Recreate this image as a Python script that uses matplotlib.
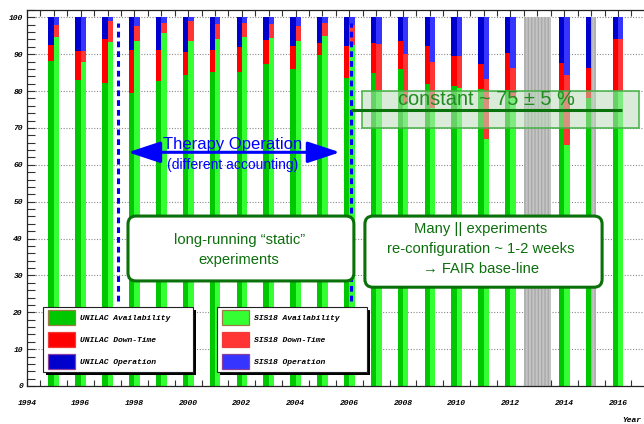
import numpy as np
import matplotlib
matplotlib.use("Agg")
import matplotlib.pyplot as plt
from matplotlib.patches import Rectangle, FancyBboxPatch, FancyArrowPatch

# ---- data (percent of scheduled beam time) ----
unilac_years = [1995, 1996, 1997, 1998, 1999, 2000, 2001, 2002, 2003, 2004, 2005,
                2006, 2007, 2008, 2009, 2010, 2011, 2012, 2014, 2015, 2016]
unilac_avail = [88.2, 83.1, 82.1, 79.4, 82.8, 84.5, 85.3, 85.2, 87.3, 86.0, 89.9,
                83.5, 84.9, 85.9, 82.0, 81.5, 80.6, 80.4, 80.0, 78.0, 80.0]
unilac_down = [4.3, 7.9, 12.0, 11.8, 8.4, 6.2, 5.8, 6.8, 6.6, 6.1, 3.1,
               8.6, 8.1, 7.6, 10.1, 8.1, 6.7, 9.8, 7.6, 8.3, 14.0]
unilac_oper = [7.5, 9.0, 5.9, 8.8, 8.8, 9.3, 8.9, 8.0, 6.1, 7.9, 7.0,
               7.9, 7.0, 6.5, 7.9, 10.4, 12.7, 9.8, 12.4, 13.7, 6.0]

sis_years = [1995, 1996, 1997, 1998, 1999, 2000, 2001, 2002, 2003, 2004, 2005,
             2006, 2007, 2008, 2009, 2010, 2011, 2012, 2014, 2016]
sis_avail = [94.8, 88.0, 93.4, 93.6, 95.7, 93.6, 94.1, 94.7, 94.5, 93.6, 94.9,
             92.4, 80.4, 76.5, 75.5, 80.8, 67.1, 78.0, 65.3, 80.0]
sis_down = [3.1, 3.0, 5.6, 4.1, 2.7, 5.3, 4.1, 3.9, 3.7, 4.0, 3.5,
            5.4, 12.4, 13.5, 12.5, 8.6, 16.1, 8.2, 19.2, 14.0]
sis_oper = [2.1, 9.0, 1.0, 2.3, 1.6, 1.1, 1.8, 1.4, 1.8, 2.4, 1.6,
            2.2, 7.2, 10.0, 12.0, 10.6, 16.8, 13.8, 15.5, 6.0]

# shutdown periods shown in gray
shutdown_spans = [(2012.5, 2013.5), (2015.0, 2015.2)]

# target band for SIS18 availability
band_center, band_halfwidth = 75, 5

x_ticks = [1994, 1996, 1998, 2000, 2002, 2004, 2006, 2008, 2010, 2012, 2014, 2016]
y_ticks = [0, 10, 20, 30, 40, 50, 60, 70, 80, 90, 100]

unilac_colors = ["#00c800", "#ff0000", "#0000cc"]
sis_colors = ["#33ff33", "#ff3535", "#3535ff"]
legend_labels_unilac = ["UNILAC Availability", "UNILAC Down-Time", "UNILAC Operation"]
legend_labels_sis = ["SIS18 Availability", "SIS18 Down-Time", "SIS18 Operation"]

W, H = 644, 424
fig = plt.figure(figsize=(W / 100, H / 100), dpi=100)
ax = fig.add_axes([27 / W, (H - 386) / H, (644.8 - 27) / W, (386 - 10) / H])
ax.set_xlim(1994, 2017)
ax.set_ylim(0, 102)

tick_font = dict(family="Liberation Mono", weight="bold", style="italic", size=5.8)

# ---- stacked bars ----
bw = 0.2
def stack(years, avail, down, oper, offset, colors):
    x = np.asarray(years) + offset
    a = np.asarray(avail)
    d = np.asarray(down)
    o = np.asarray(oper)
    ax.bar(x, a, width=bw, color=colors[0], lw=0, zorder=2)
    ax.bar(x, d, width=bw, bottom=a, color=colors[1], lw=0, zorder=2)
    ax.bar(x, o, width=bw, bottom=a + d, color=colors[2], lw=0, zorder=2)

stack(unilac_years, unilac_avail, unilac_down, unilac_oper, -bw / 2, unilac_colors)
stack(sis_years, sis_avail, sis_down, sis_oper, bw / 2, sis_colors)

# shutdown periods
for x0, x1 in shutdown_spans:
    ax.bar((x0 + x1) / 2, 100, width=x1 - x0, color="#c4c4c4", edgecolor="#a9a9a9",
           hatch="|||||", lw=0, zorder=2)

# ---- axes styling ----
ax.set_axisbelow(True)
ax.set_xticks(x_ticks)
ax.set_xticks(np.arange(1994, 2017.01, 0.5), minor=True)
ax.set_yticks(y_ticks)
ax.set_yticks(np.arange(0, 102.1, 2), minor=True)
ax.set_xticklabels([str(t) for t in x_ticks], fontdict=tick_font)
ax.set_yticklabels([str(t) for t in y_ticks], fontdict=tick_font)
ax.tick_params(axis="x", which="both", direction="in", top=True, bottom=True,
               pad=10, width=0.8, color="#333333")
ax.tick_params(axis="x", which="major", length=6)
ax.tick_params(axis="x", which="minor", length=4.5)
ax.tick_params(axis="y", which="both", direction="in", left=True, right=False,
               pad=3, width=0.8, color="#333333")
ax.tick_params(axis="y", which="major", length=6)
ax.tick_params(axis="y", which="minor", length=5.5)
ax.yaxis.grid(True, which="major", linestyle=(0, (1, 1.5)), color="#8a8a8a", lw=0.8)
for s in ["top", "bottom", "left"]:
    ax.spines[s].set_linewidth(0.9)
    ax.spines[s].set_color("#222222")
ax.spines["right"].set_visible(False)

# ---- annotations ----
# epoch boundaries
for xl in (1997.39, 2006.07):
    ax.plot([xl, xl], [23, 98.6], color="#0000ff", lw=2.2, dashes=(1.9, 1.3),
            solid_capstyle="butt", dash_capstyle="butt", zorder=5)

# availability band
ax.add_patch(Rectangle((2006.48, band_center - band_halfwidth), 2016.8 - 2006.48,
                       2 * band_halfwidth, facecolor="#bcdcbc", alpha=0.55,
                       edgecolor="none", zorder=4))
ax.add_patch(Rectangle((2006.48, band_center - band_halfwidth), 2016.8 - 2006.48,
                       2 * band_halfwidth, facecolor="none",
                       edgecolor="#44b044", lw=1.1, zorder=4))
ax.plot([2006.07, 2016.16], [band_center, band_center], color="#0a720a", lw=2.2,
        solid_capstyle="butt", zorder=5)
ax.text(2007.8, 76.2, "constant ~ 75 \u00b1 5 %", color="#1f8c1f",
        family="Liberation Sans", size=14.4, ha="left", va="baseline", zorder=6)

# therapy operation arrow
ax.add_patch(FancyArrowPatch((1997.76, 63.4), (2005.65, 63.4),
                             arrowstyle="<|-|>,head_length=1.0,head_width=0.33",
                             mutation_scale=20, color="#0000ff", lw=2.2,
                             shrinkA=0, shrinkB=0, zorder=6))
ax.text(2001.67, 64.4, "Therapy Operation", color="#0000ff", family="Liberation Sans",
        size=12, ha="center", va="baseline", zorder=6)
ax.text(2001.67, 58.8, "(different accounting)", color="#0000ff", family="Liberation Sans",
        size=10, ha="center", va="baseline", zorder=6)

# text boxes
box_aspect = 26.86 / 3.686
def text_box(x0, y0, x1, y1):
    ax.add_patch(FancyBboxPatch((x0, y0), x1 - x0, y1 - y0,
                                boxstyle="round,pad=0,rounding_size=0.3",
                                mutation_aspect=box_aspect,
                                facecolor="white", edgecolor="#0a700a", lw=2.2, zorder=7))

text_box(1997.76, 28.5, 2006.17, 46.1)
text_box(2006.58, 26.8, 2015.41, 46.1)
box_font = dict(family=["Liberation Sans", "DejaVu Sans"], color="#0c6e0c", size=10.6,
                ha="center", va="center", zorder=8)
ax.text(2001.9, 39.6, "long-running \u201cstatic\u201d", **box_font)
ax.text(2001.9, 34.1, "experiments", **box_font)
ax.text(2010.9, 42.5, "Many || experiments", **box_font)
ax.text(2010.9, 37.1, "re-configuration ~ 1-2 weeks", **box_font)
ax.text(2010.9, 31.7, "\u2192 FAIR base-line", **box_font)

# ---- legends (pixel layout) ----
def px_rect(x0, y0, x1, y1, **kw):
    fig.add_artist(Rectangle((x0 / W, 1 - y1 / H), (x1 - x0) / W, (y1 - y0) / H,
                             transform=fig.transFigure, **kw))

patch_edges = ["#9c7c44", "#f03a3a", "#8a3fa0"]
def legend_block(x0, colors, labels):
    y0, y1 = 307, 372
    px_rect(x0 + 3, y0 + 3, x0 + 153, y1 + 3, facecolor="black", edgecolor="none", zorder=9)
    px_rect(x0, y0, x0 + 150, y1, facecolor="white", edgecolor="#222222", lw=0.8, zorder=10)
    for i, (c, lab) in enumerate(zip(colors, labels)):
        top = 310 + i * 22
        px_rect(x0 + 5, top, x0 + 32, top + 15, facecolor=c, edgecolor=patch_edges[i],
                lw=0.9, zorder=11)
        fig.text((x0 + 37) / W, 1 - (top + 8) / H, lab, ha="left", va="center",
                 zorder=11, **tick_font)

legend_block(43, unilac_colors, legend_labels_unilac)
legend_block(217, sis_colors, legend_labels_sis)

# axis title in the lower right corner
fig.text(641 / W, 1 - 420 / H, "Year", ha="right", va="center", **tick_font)

fig.savefig("out.png", dpi=100)
